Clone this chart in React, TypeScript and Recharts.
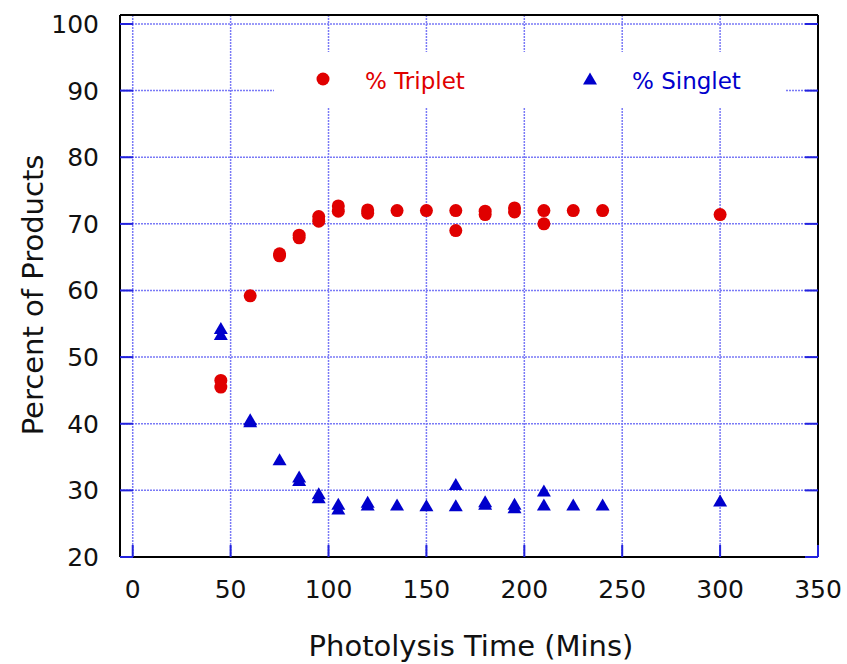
import React from "react";
import { ScatterChart, Scatter, XAxis, YAxis, CartesianGrid, Legend } from "recharts";

// photolysis time (mins) and % product
const tripletTime = [45, 45, 60, 75, 75, 85, 85, 95, 95, 105, 105, 120, 120, 135, 150, 165, 165, 180, 180, 195, 195, 210, 210, 225, 240, 300];
const tripletPct = [46.5, 45.5, 59.2, 65.2, 65.5, 67.9, 68.3, 71.1, 70.4, 72.7, 71.9, 72.1, 71.6, 72.0, 72.0, 72.0, 69.0, 71.9, 71.4, 72.4, 71.8, 72.0, 70.0, 72.0, 72.0, 71.4];

const singletTime = [45, 45, 60, 60, 75, 85, 85, 95, 95, 105, 105, 120, 120, 135, 150, 165, 165, 180, 180, 195, 195, 210, 210, 225, 240, 300];
const singletPct = [54.3, 53.4, 40.6, 40.3, 34.6, 32.0, 31.5, 29.5, 28.9, 27.9, 27.2, 28.2, 27.8, 27.8, 27.7, 30.9, 27.7, 28.3, 27.9, 27.9, 27.4, 29.9, 27.8, 27.8, 27.8, 28.4];

const xTicks = [0, 50, 100, 150, 200, 250, 300, 350];
const yTicks = [20, 30, 40, 50, 60, 70, 80, 90, 100];

const tripletData = tripletTime.map((t, i) => ({ time: t, pct: tripletPct[i] }));
const singletData = singletTime.map((t, i) => ({ time: t, pct: singletPct[i] }));

const FONT = "'DejaVu Sans', sans-serif";
const RED = "#e00000";
const BLUE = "#0000cc";
const TICK_BLUE = "#2222dd";

const Dot = (props: any) => <circle cx={props.cx} cy={props.cy} r={6.5} fill={RED} />;
const Tri = (props: any) => (
  <polygon
    points={`${props.cx},${props.cy - 6.5} ${props.cx - 7},${props.cy + 5.5} ${props.cx + 7},${props.cy + 5.5}`}
    fill={BLUE}
  />
);

const BottomTick = ({ x, y, payload }: any) => (
  <g>
    <line x1={x} y1={y} x2={x} y2={y - 12} stroke={TICK_BLUE} strokeWidth={2} />
    <text x={x} y={y + 41} textAnchor="middle" fontSize={25} fontFamily={FONT} fill="#111">
      {payload.value}
    </text>
  </g>
);
const LeftTick = ({ x, y, payload }: any) => (
  <g>
    <line x1={x} y1={y} x2={x + 13} y2={y} stroke={TICK_BLUE} strokeWidth={2} />
    <text x={x - 21} y={y + 9} textAnchor="end" fontSize={25} fontFamily={FONT} fill="#111">
      {payload.value}
    </text>
  </g>
);
const TopTick = ({ x, y }: any) => <line x1={x} y1={y} x2={x} y2={y + 12} stroke={TICK_BLUE} strokeWidth={2} />;
const RightTick = ({ x, y }: any) => <line x1={x} y1={y} x2={x - 13} y2={y} stroke={TICK_BLUE} strokeWidth={2} />;

const YTitle = () => (
  <text x={43} y={295} transform="rotate(-90, 43, 295)" textAnchor="middle" fontSize={29} fontFamily={FONT} fill="#111">
    Percent of Products
  </text>
);
const XTitle = () => (
  <text x={471} y={656} textAnchor="middle" fontSize={29} fontFamily={FONT} fill="#111">
    Photolysis Time (Mins)
  </text>
);

const LegendBox = () => (
  <svg width={512} height={55} style={{ display: "block" }}>
    <circle cx={49} cy={27} r={6.5} fill={RED} />
    <text x={91} y={37} fontSize={23} fontFamily={FONT} fill={RED}>% Triplet</text>
    <polygon points="316,20.5 309,32.5 323,32.5" fill={BLUE} />
    <text x={358} y={37} fontSize={23} fontFamily={FONT} fill={BLUE}>% Singlet</text>
  </svg>
);

const frame = { stroke: "#000", strokeWidth: 2 };

export default function App() {
  return (
    <div style={{ position: "absolute", left: 0, top: 0, width: 847, height: 664, background: "#fff" }}>
      <ScatterChart width={847} height={664} margin={{ top: 0, right: 0, bottom: 0, left: 0 }}>
        <CartesianGrid stroke="#7a7af6" strokeDasharray="2 1" strokeWidth={1.5} />
        <XAxis
          dataKey="time"
          type="number"
          domain={[-6.5, 350]}
          ticks={xTicks}
          interval={0}
          allowDataOverflow
          height={107}
          axisLine={frame}
          tickLine={false}
          tickSize={0}
          tickMargin={0}
          tick={<BottomTick />}
          label={<XTitle />}
        />
        <XAxis
          xAxisId="top"
          orientation="top"
          type="number"
          domain={[-6.5, 350]}
          ticks={xTicks}
          interval={0}
          allowDataOverflow
          height={15}
          axisLine={frame}
          tickLine={false}
          tickSize={0}
          tickMargin={0}
          tick={<TopTick />}
        />
        <YAxis
          dataKey="pct"
          type="number"
          domain={[20, 101.35]}
          ticks={yTicks}
          interval={0}
          allowDataOverflow
          width={120}
          axisLine={frame}
          tickLine={false}
          tickSize={0}
          tickMargin={0}
          tick={<LeftTick />}
          label={<YTitle />}
        />
        <YAxis
          yAxisId="right"
          orientation="right"
          type="number"
          domain={[20, 101.35]}
          ticks={yTicks}
          interval={0}
          allowDataOverflow
          width={29}
          axisLine={frame}
          tickLine={false}
          tickSize={0}
          tickMargin={0}
          tick={<RightTick />}
        />
        <Legend
          layout="horizontal"
          align="center"
          verticalAlign="middle"
          content={<LegendBox />}
          wrapperStyle={{ left: 274, top: 52, width: 512, height: 55, background: "#fff" }}
        />
        <Scatter name="% Triplet" data={tripletData} shape={<Dot />} isAnimationActive={false} />
        <Scatter name="% Singlet" data={singletData} shape={<Tri />} isAnimationActive={false} />
      </ScatterChart>
    </div>
  );
}
